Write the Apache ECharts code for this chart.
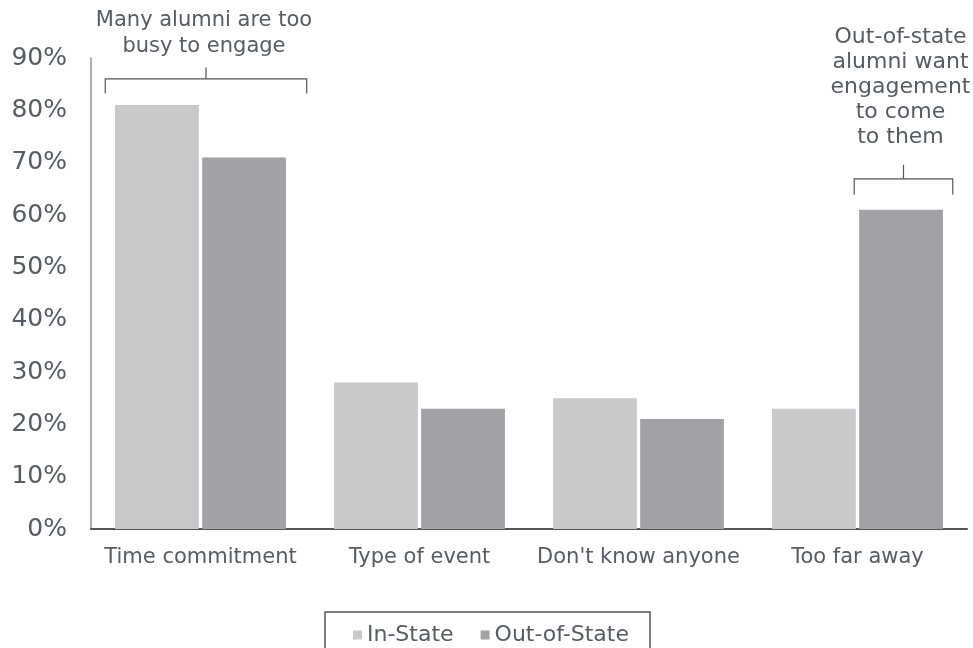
<!DOCTYPE html>
<html><head><meta charset="utf-8">
<script src="https://cdn.jsdelivr.net/npm/echarts@6/dist/echarts.min.js"></script>
<style>html,body{margin:0;padding:0;background:#fff}#c{width:973px;height:648px}</style>
</head><body><div id="c"></div>
<script>
const categories = ['Time commitment', 'Type of event', "Don't know anyone", 'Too far away'];
const seriesNames = ['In-State', 'Out-of-State'];
const inState = [81, 28, 25, 23];
const outState = [71, 23, 21, 61];
const yMin = 0, yMax = 90, yStep = 10;
const note1 = 'Many alumni are too\nbusy to engage';
const note2 = 'Out-of-state\nalumni want\nengagement\nto come\nto them';

const FONT = '"DejaVu Sans", Verdana, sans-serif';
const TXT = '#555c63';
const chart = echarts.init(document.getElementById('c'));
const option = {
  animation: false,
  grid: {left: 91, right: 6, top: 58, bottom: 119, containLabel: false},
  legend: {
    data: seriesNames, top: 612, left: 325,
    itemWidth: 9, itemHeight: 9, itemGap: 27, icon: 'rect',
    borderColor: '#50565c', borderWidth: 1.5, padding: [12, 21, 12, 28],
    textStyle: {fontFamily: FONT, fontSize: 22, color: TXT}
  },
  xAxis: {
    type: 'category', data: categories,
    axisLine: {lineStyle: {color: '#50565c', width: 2}},
    axisTick: {show: false},
    axisLabel: {fontFamily: FONT, fontSize: 21, color: TXT, margin: 18, interval: 0}
  },
  yAxis: {
    type: 'value', min: yMin, max: yMax, interval: yStep,
    axisLine: {show: true, lineStyle: {color: '#8f9297', width: 1.5}},
    axisTick: {show: false}, splitLine: {show: false},
    axisLabel: {fontFamily: FONT, fontSize: 25, color: TXT, margin: 24, formatter: '{value}%'}
  },
  series: [
    {name: seriesNames[0], type: 'bar', data: inState, itemStyle: {color: '#c8c9cb'}, barGap: '4%', barCategoryGap: '22%'},
    {name: seriesNames[1], type: 'bar', data: outState, itemStyle: {color: '#a0a2a6'}}
  ]
};
chart.setOption(option);

function px(cat, val) { return chart.convertToPixel({xAxisIndex: 0, yAxisIndex: 0}, [cat, val]); }
const c0 = px(0, 0)[0], c1 = px(1, 0)[0];
const band = c1 - c0;
const lineStyle = {stroke: '#50565c', lineWidth: 1.2, fill: null};
function bracket(cx, half, yLine, yTick) {
  return {
    type: 'polyline', silent: true,
    shape: {points: [[cx - half, yTick], [cx - half, yLine], [cx + half, yLine], [cx + half, yTick]]},
    style: lineStyle
  };
}
const b1x = c0 + 0.025 * band, b1half = 0.46 * band;
const b2x = px(3, 0)[0] + 0.21 * band, b2half = 0.225 * band;
const y1Line = px(0, 86)[1], y1Tick = px(0, 83.2)[1], y1Top = px(0, 88.2)[1];
const y2Line = px(0, 66.9)[1], y2Tick = px(0, 63.9)[1], y2Top = px(0, 69.6)[1];
chart.setOption({
  graphic: [
    bracket(b1x, b1half, y1Line, y1Tick),
    {type: 'line', silent: true, shape: {x1: b1x, y1: y1Line, x2: b1x, y2: y1Top}, style: lineStyle},
    bracket(b2x, b2half, y2Line, y2Tick),
    {type: 'line', silent: true, shape: {x1: b2x, y1: y2Line, x2: b2x, y2: y2Top}, style: lineStyle},
    {type: 'text', silent: true, x: b1x - 2, y: 8, style: {text: note1, fontFamily: FONT, fontSize: 21, fill: TXT, align: 'center', lineHeight: 26}},
    {type: 'text', silent: true, x: b2x - 3, y: 25, style: {text: note2, fontFamily: FONT, fontSize: 22, fill: TXT, align: 'center', lineHeight: 25}}
  ]
});
</script></body></html>
